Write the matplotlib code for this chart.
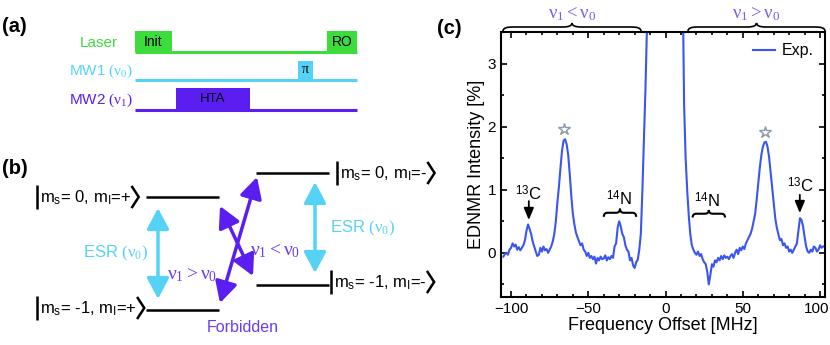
import numpy as np
import matplotlib
matplotlib.use('Agg')
import matplotlib.pyplot as plt
import matplotlib.transforms as mtransforms
from matplotlib.path import Path
from matplotlib.patches import PathPatch, FancyArrowPatch, Rectangle

plt.rcParams['font.family'] = ['Liberation Sans', 'DejaVu Sans']
plt.rcParams['mathtext.fontset'] = 'custom'
plt.rcParams['mathtext.rm'] = 'Liberation Serif'
plt.rcParams['mathtext.it'] = 'Liberation Serif'
plt.rcParams['mathtext.sf'] = 'Liberation Sans'

# ---------------- data (panel c) ----------------
freq_left = [-105, -104, -103, -102, -101, -100, -99, -98, -97, -96, -95, -94, -93, -92, -91,
             -90, -89, -88, -87, -86, -85, -84, -83, -82, -81, -80, -79, -78, -77, -76,
             -75, -74, -73, -72, -71, -70, -69, -68, -67, -66, -65, -64, -63, -62, -61,
             -60, -59, -58, -57, -56, -55, -54, -53, -52, -51, -50, -49, -48, -47, -46,
             -45, -44, -43, -42, -41, -40, -39, -38, -37, -36, -35, -34, -33, -32, -31,
             -30, -29, -28, -27, -26, -25, -24, -23, -22, -21, -20, -19, -18, -17, -16,
             -15, -14, -13, -12, -11]
intensity_left = [-0.06, -0.02, 0.00, -0.03, 0.05, 0.08, 0.15, 0.10, 0.13, 0.05, 0.09, 0.04, 0.08, 0.12, 0.20,
                  0.35, 0.45, 0.38, 0.30, 0.18, 0.10, 0.02, -0.05, -0.03, 0.08, 0.02, 0.10, 0.04, 0.06, 0.00,
                  0.05, 0.10, 0.18, 0.30, 0.50, 0.80, 1.05, 1.35, 1.62, 1.78, 1.80, 1.72, 1.55, 1.25, 0.90,
                  0.62, 0.45, 0.32, 0.25, 0.18, 0.12, 0.15, 0.05, 0.02, -0.05, 0.00, -0.08, -0.05, -0.10, -0.06,
                  -0.17, -0.08, -0.12, -0.06, -0.10, -0.09, -0.04, -0.12, -0.07, -0.10, -0.05, -0.08, 0.10, 0.15, 0.40,
                  0.50, 0.42, 0.30, 0.25, 0.12, 0.05, 0.02, -0.12, -0.08, -0.20, -0.24, -0.15, -0.11, 0.05, 0.30,
                  0.98, 1.80, 2.60, 3.60, 5.00]
freq_center = [0]
intensity_center = [40.0]
freq_right = [11, 12, 13, 14, 15, 16, 17, 18, 19, 20, 21, 22, 23, 24, 25,
              26, 27, 28, 29, 30, 31, 32, 33, 34, 35, 36, 37, 38, 39, 40,
              41, 42, 43, 44, 45, 46, 47, 48, 49, 50, 51, 52, 53, 54, 55,
              56, 57, 58, 59, 60, 61, 62, 63, 64, 65, 66, 67, 68, 69, 70,
              71, 72, 73, 74, 75, 76, 77, 78, 79, 80, 81, 82, 83, 84, 85,
              86, 87, 88, 89, 90, 91, 92, 93, 94, 95, 96, 97, 98, 99, 100,
              101, 102]
intensity_right = [4.50, 2.35, 1.50, 1.00, 0.60, 0.30, 0.12, 0.05, 0.00, -0.03, 0.02, -0.05, -0.02, -0.10, -0.15,
                   -0.18, -0.30, -0.50, -0.35, -0.18, -0.22, -0.12, -0.15, -0.08, -0.12, -0.05, -0.10, -0.04, -0.08, -0.06,
                   -0.10, -0.05, -0.02, -0.08, 0.00, 0.05, -0.02, 0.08, 0.04, 0.10, 0.06, 0.15, 0.20, 0.25, 0.30,
                   0.38, 0.50, 0.62, 0.85, 1.10, 1.35, 1.55, 1.68, 1.75, 1.76, 1.68, 1.52, 1.28, 1.05, 0.80,
                   0.55, 0.40, 0.30, 0.20, 0.22, 0.12, 0.15, 0.08, 0.10, 0.02, 0.05, 0.00, 0.05, 0.10, 0.15,
                   0.35, 0.55, 0.52, 0.42, 0.25, 0.10, 0.02, 0.00, 0.05, 0.02, 0.10, 0.08, 0.02, 0.05, 0.12,
                   0.08, 0.10]
star_freq = [-65.5, 64.5]
star_height = [1.97, 1.92]
x_ticks = [-100, -50, 0, 50, 100]
y_ticks = [0, 1, 2, 3]

GREEN = '#3ddc3d'
CYAN = '#55d3f7'
PURPLE = '#5a1ef0'
PURPLE_TXT = '#6a3cf2'
PURPLE_LIGHT = '#7a5cf0'
BLUE = '#3b55f0'

fig = plt.figure(figsize=(8.3, 3.45), dpi=100)

# overlay axes in pixel coordinates
ov = fig.add_axes([0, 0, 1, 1])
ov.set_xlim(0, 830)
ov.set_ylim(345, 0)
ov.axis('off')


def brace(ax, x0, x1, y, h, q, lw=1.2, color='k'):
    xm = (x0 + x1) / 2.0
    yh = y + h / 2.0
    verts = [(x0, y), (x0, yh), (x0 + q, yh), (xm - q, yh), (xm, yh), (xm, y + h),
             (xm, yh), (xm + q, yh), (x1 - q, yh), (x1, yh), (x1, y)]
    codes = [Path.MOVETO, Path.CURVE3, Path.CURVE3, Path.LINETO, Path.CURVE3, Path.CURVE3,
             Path.CURVE3, Path.CURVE3, Path.LINETO, Path.CURVE3, Path.CURVE3]
    ax.add_patch(PathPatch(Path(verts, codes), fill=False, lw=lw, color=color, clip_on=False))


# ---------------- panel (a) ----------------
ov.text(2, 27, '(a)', fontsize=14.5, fontweight='bold', ha='left', va='center')
ov.text(118, 43, 'Laser', color=GREEN, fontsize=11, ha='right', va='center')
ov.text(133, 71, r'MW1 $(\nu_0)$', color=CYAN, fontsize=11, ha='right', va='center')
ov.text(133, 100, r'MW2 $(\nu_1)$', color=PURPLE, fontsize=11, ha='right', va='center')

ov.plot([135, 357], [52, 52], color=GREEN, lw=2.2, solid_capstyle='butt')
ov.add_patch(Rectangle((135, 31), 37, 21, color=GREEN, lw=0))
ov.add_patch(Rectangle((327, 31), 30, 21, color=GREEN, lw=0))
ov.text(153.5, 42, 'Init', fontsize=10, ha='center', va='center')
ov.text(342, 42, 'RO', fontsize=10, ha='center', va='center')

ov.plot([135, 357], [80, 80], color=CYAN, lw=2.2, solid_capstyle='butt')
ov.add_patch(Rectangle((298, 61), 15, 19, color=CYAN, lw=0))
ov.text(305.5, 69, r'$\pi$', fontsize=10, ha='center', va='center')

ov.plot([135, 357], [110, 110], color=PURPLE, lw=2.2, solid_capstyle='butt')
ov.add_patch(Rectangle((176, 88), 74, 22, color=PURPLE, lw=0))
ov.text(213, 99, 'HTA', fontsize=9.5, ha='center', va='center')

# ---------------- panel (b) ----------------
ov.text(2, 169, '(b)', fontsize=14.5, fontweight='bold', ha='left', va='center')
for (xa, xb, yy) in [(146, 219, 197), (146, 219, 310), (256, 329, 173), (256, 329, 285)]:
    ov.plot([xa, xb], [yy, yy], color='k', lw=1.8, solid_capstyle='butt')

ket_fs = 12
kets = [(37, 197, r'm$_\mathsf{s}$= 0, m$_\mathsf{I}$=+'),
        (37, 308, r'm$_\mathsf{s}$= -1, m$_\mathsf{I}$=+'),
        (337, 173, r'm$_\mathsf{s}$= 0, m$_\mathsf{I}$=-'),
        (331, 282, r'm$_\mathsf{s}$= -1, m$_\mathsf{I}$=-')]
ket_texts = []
for (xb, yc, s) in kets:
    t = ov.text(xb + 2.5, yc + 1, s, fontsize=ket_fs, ha='left', va='center')
    ket_texts.append(t)
    ov.plot([xb, xb], [yc - 12, yc + 12], color='k', lw=1.8, solid_capstyle='butt')

fig.canvas.draw()
renderer = fig.canvas.get_renderer()
inv = ov.transData.inverted()
for (xb, yc, s), t in zip(kets, ket_texts):
    bb = t.get_window_extent(renderer)
    xe = inv.transform((bb.x1, bb.y0))[0]
    ov.plot([xe + 1.5, xe + 8, xe + 1.5], [yc - 10, yc, yc + 10], color='k', lw=1.8,
            solid_joinstyle='miter', clip_on=False)

for (p0, p1, col) in [((158, 208), (158, 299), CYAN), ((315, 182), (315, 273), CYAN),
                      ((220, 206), (253, 276), PURPLE), ((220, 303), (257, 177), PURPLE)]:
    ov.add_patch(FancyArrowPatch(p0, p1, arrowstyle='<|-|>,head_length=0.85,head_width=0.45',
                                 mutation_scale=15, lw=2.5, color=col, shrinkA=0, shrinkB=0))

ov.text(115, 253, r'ESR $(\nu_0)$', color=CYAN, fontsize=12, ha='center', va='center')
ov.text(362, 228, r'ESR $(\nu_0)$', color=CYAN, fontsize=12, ha='center', va='center')
ov.text(192, 275, r'$\nu_1 > \nu_0$', color=PURPLE_TXT, fontsize=14, ha='center', va='center')
ov.text(275, 251, r'$\nu_1 < \nu_0$', color=PURPLE_TXT, fontsize=14, ha='center', va='center')
ov.text(243, 327, 'Forbidden', color=PURPLE_TXT, fontsize=11.5, ha='center', va='center')

# ---------------- panel (c) ----------------
ov.text(437, 28, '(c)', fontsize=14.5, fontweight='bold', ha='left', va='center')
brace(ov, 503, 641, 31, -8, 9)
brace(ov, 688, 825, 31, -8, 9)
ov.text(572, 14, r'$\nu_1 < \nu_0$', color=PURPLE_LIGHT, fontsize=13.5, ha='center', va='center')
ov.text(756, 14, r'$\nu_1 > \nu_0$', color=PURPLE_LIGHT, fontsize=13.5, ha='center', va='center')

W, H = 830.0, 345.0
axc = fig.add_axes([501 / W, (H - 297) / H, (825 - 501) / W, (297 - 32) / H])
freq = freq_left + freq_center + freq_right
inten = intensity_left + intensity_center + intensity_right
axc.plot(freq, inten, color=BLUE, lw=1.5, label='Exp.')
axc.plot(star_freq, star_height, ls='none', marker='*', ms=9, mfc='white', mec='#8a9aa8', mew=1.0)
axc.set_xlim(-106.5, 103.2)
axc.set_ylim(-0.7, 3.5)
axc.set_xticks(x_ticks)
axc.set_yticks(y_ticks)
axc.set_xticks(np.arange(-100, 101, 10), minor=True)
axc.set_yticks([-0.5, 0.5, 1.5, 2.5, 3.5], minor=True)
axc.tick_params(which='both', direction='in', top=True, right=True, labelsize=11, width=1.2)
axc.tick_params(which='major', length=4)
axc.tick_params(which='minor', length=2.5)
for s in axc.spines.values():
    s.set_linewidth(1.5)
axc.set_xlabel('Frequency Offset [MHz]', fontsize=13, labelpad=1)
axc.set_ylabel('EDNMR Intensity [%]', fontsize=13, labelpad=2)
axc.legend(loc='upper right', frameon=False, fontsize=11.5, handlelength=1.4,
           borderaxespad=0.3, handletextpad=0.4)

# keep the last x tick label inside the figure
last_lbl = axc.xaxis.get_majorticklabels()[-1]
last_lbl.set_transform(last_lbl.get_transform() +
                       mtransforms.ScaledTranslation(-3.5 / 100, 0, fig.dpi_scale_trans))

# isotope annotations
axc.text(-88.5, 0.93, r'$^{\mathsf{13}}$C', fontsize=12, ha='center', va='center')
axc.add_patch(FancyArrowPatch((-88.5, 0.82), (-88.5, 0.52), arrowstyle='-|>,head_length=0.6,head_width=0.25',
                              mutation_scale=12, lw=1.3, color='k', shrinkA=0, shrinkB=0))
axc.text(87.2, 1.07, r'$^{\mathsf{13}}$C', fontsize=12, ha='center', va='center')
axc.add_patch(FancyArrowPatch((86.9, 0.92), (86.9, 0.63), arrowstyle='-|>,head_length=0.6,head_width=0.25',
                              mutation_scale=12, lw=1.3, color='k', shrinkA=0, shrinkB=0))
axc.text(-29.8, 0.86, r'$^{\mathsf{14}}$N', fontsize=12, ha='center', va='center')
brace(axc, -40, -19, 0.57, 0.13, 2.5, lw=1.5)
axc.text(27.0, 0.83, r'$^{\mathsf{14}}$N', fontsize=12, ha='center', va='center')
brace(axc, 17.5, 38.5, 0.56, 0.12, 2.5, lw=1.5)

fig.savefig('out.png', dpi=100)
